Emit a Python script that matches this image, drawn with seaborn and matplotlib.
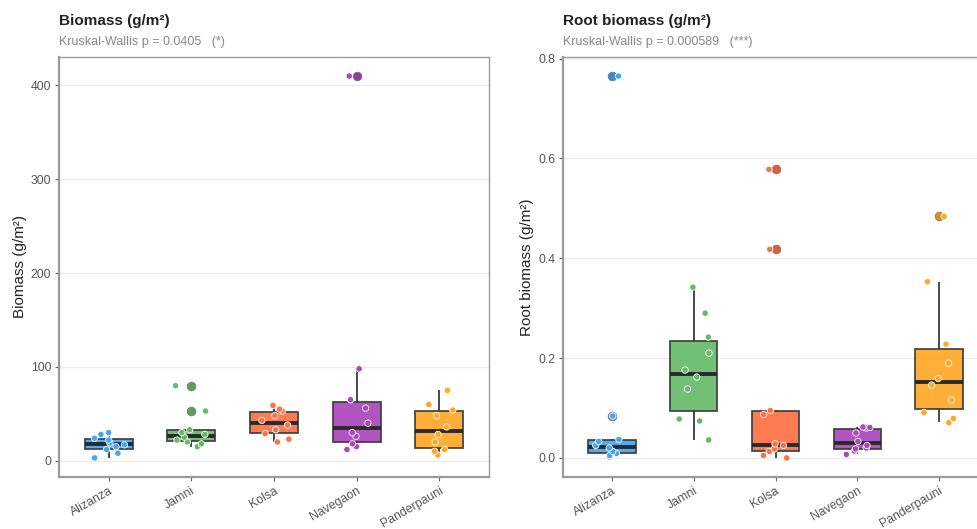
import numpy as np
import pandas as pd
import matplotlib
matplotlib.use("Agg")
import matplotlib.pyplot as plt
import matplotlib.colors as mcolors
import seaborn as sns

sites = ["Alizanza", "Jamni", "Kolsa", "Navegaon", "Panderpauni"]
colors = ["#42A5F5", "#66BB6A", "#FF7043", "#AB47BC", "#FFA726"]

biomass_alizanza = [3, 8, 12, 15, 17, 19, 22, 24, 28, 30]
biomass_jamni = [15, 18, 20, 22, 25, 28, 30, 33, 53, 80]
biomass_kolsa = [20, 23, 29, 33, 38, 43, 48, 53, 55, 59]
biomass_navegaon = [12, 15, 18, 26, 30, 40, 56, 65, 98, 410]
biomass_panderpauni = [6, 10, 12, 20, 28, 36, 48, 54, 60, 75]

root_alizanza = [0.002, 0.005, 0.009, 0.013, 0.020, 0.025, 0.033, 0.037, 0.084, 0.765]
root_jamni = [0.036, 0.074, 0.078, 0.138, 0.162, 0.176, 0.210, 0.242, 0.290, 0.342]
root_kolsa = [0.000, 0.005, 0.013, 0.018, 0.025, 0.028, 0.087, 0.095, 0.418, 0.578]
root_navegaon = [0.007, 0.014, 0.018, 0.020, 0.025, 0.033, 0.050, 0.060, 0.061, 0.062]
root_panderpauni = [0.071, 0.079, 0.091, 0.116, 0.146, 0.159, 0.190, 0.228, 0.353, 0.484]

titles = ["Biomass (g/m²)", "Root biomass (g/m²)"]
subtitles = ["Kruskal-Wallis p = 0.0405   (*)", "Kruskal-Wallis p = 0.000589   (***)"]
ylabels = ["Biomass (g/m²)", "Root biomass (g/m²)"]
yticks_left = [0, 100, 200, 300, 400]
yticks_right = [0.0, 0.2, 0.4, 0.6, 0.8]


def long_df(groups):
    rows = []
    for site, vals in zip(sites, groups):
        for v in vals:
            rows.append((site, v))
    return pd.DataFrame(rows, columns=["site", "value"])


df_bio = long_df([biomass_alizanza, biomass_jamni, biomass_kolsa, biomass_navegaon, biomass_panderpauni])
df_root = long_df([root_alizanza, root_jamni, root_kolsa, root_navegaon, root_panderpauni])

sns.set_theme(style="white")
plt.rcParams["font.family"] = ["Liberation Sans", "DejaVu Sans"]

W, H = 977, 529
fig = plt.figure(figsize=(W / 100, H / 100), dpi=100)
ax1 = fig.add_axes([59 / W, 1 - 477 / H, 430 / W, 420 / H])
ax2 = fig.add_axes([563 / W, 1 - 477 / H, 425 / W, 420 / H])

np.random.seed(7)
for ax, df, title, sub, ylab, yt, fmt in [
    (ax1, df_bio, titles[0], subtitles[0], ylabels[0], yticks_left, "{:.0f}"),
    (ax2, df_root, titles[1], subtitles[1], ylabels[1], yticks_right, "{:.1f}"),
]:
    ax.set_axisbelow(True)
    ax.yaxis.grid(True, color="#EBEBEB", lw=0.9)
    ax.xaxis.grid(False)
    sns.boxplot(data=df, x="site", y="value", hue="site", order=sites, hue_order=sites,
                palette=colors, width=0.58, linewidth=1.3, linecolor="#3a3a3a",
                showcaps=False, legend=False, ax=ax, saturation=1,
                medianprops=dict(linewidth=2.8, color="#2a2a2a"),
                flierprops=dict(marker="o", markersize=6.3, markeredgewidth=0.5))
    for i, c in enumerate(ax.containers):
        col = colors[i % len(colors)]
        dark = tuple(np.array(mcolors.to_rgb(col)) * 0.85)
        for b in c.boxes:
            b.set_alpha(0.92)
        for fl in c.fliers:
            fl.set_markerfacecolor(dark)
            fl.set_markeredgecolor("#777777")
    sns.stripplot(data=df, x="site", y="value", hue="site", order=sites, hue_order=sites,
                  palette=colors, jitter=0.2, size=4.6, linewidth=0.6, edgecolor="white",
                  legend=False, ax=ax, zorder=4)
    lo, hi = df["value"].min(), df["value"].max()
    rng = hi - lo
    ax.set_ylim(lo - 0.05 * rng, hi + 0.05 * rng)
    ax.set_xlim(-0.6, 4.6)
    ax.set_yticks(yt)
    ax.set_yticklabels([fmt.format(v) for v in yt])
    ax.set_xlabel("")
    ax.set_ylabel(ylab, fontsize=11, color="#222222", labelpad=3)
    ax.tick_params(axis="both", which="both", length=3, width=0.8, color="#666666",
                   labelsize=8.8, labelcolor="#555555", direction="out", bottom=True, left=True,
                   pad=2.5)
    plt.setp(ax.get_xticklabels(), rotation=30, ha="right", rotation_mode="anchor")
    for s in ax.spines.values():
        s.set_color("#9a9a9a")
        s.set_linewidth(1.0)
    ax.spines["left"].set_linewidth(1.6)
    ax.spines["bottom"].set_linewidth(1.6)
    x0 = ax.get_position().x0
    fig.text(x0, 1 - 25 / H, title, fontsize=11, fontweight="bold", color="#222222",
             ha="left", va="baseline")
    fig.text(x0, 1 - 45 / H, sub, fontsize=9, color="#888888", ha="left", va="baseline")

fig.savefig("out.png", dpi=100)
